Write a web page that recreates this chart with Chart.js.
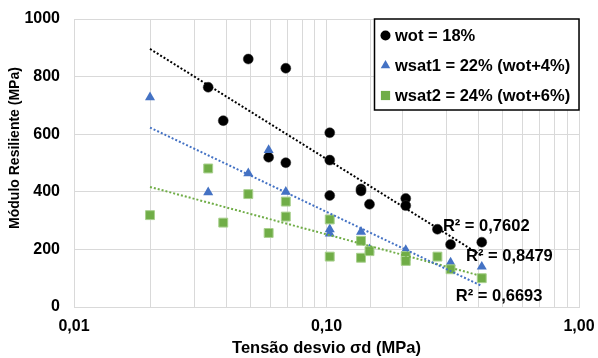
<!DOCTYPE html>
<html>
<head>
<meta charset="utf-8">
<script src="https://cdn.jsdelivr.net/npm/chart.js@4.4.1/dist/chart.umd.min.js"></script>
<style>
  body { margin: 0; background: #fff; }
</style>
</head>
<body>
<canvas id="grafico" width="598" height="358"></canvas>
<script>
// Módulo resiliente x tensão desvio, três umidades, com linhas de tendência logarítmicas

const wotSigma = [0.034, 0.039, 0.049, 0.059, 0.069, 0.069, 0.103, 0.103, 0.103, 0.137, 0.137, 0.148, 0.206, 0.206, 0.275, 0.31, 0.412];
const wotMr    = [763, 647, 861, 520, 829, 501, 605, 510, 387, 410, 403, 357, 377, 352, 270, 217, 225];

const wsat1Sigma = [0.02, 0.034, 0.049, 0.059, 0.069, 0.103, 0.103, 0.137, 0.148, 0.206, 0.31, 0.412];
const wsat1Mr    = [728, 398, 464, 545, 400, 270, 255, 261, 200, 198, 154, 140];

const wsat2Sigma = [0.02, 0.034, 0.039, 0.049, 0.059, 0.069, 0.069, 0.103, 0.103, 0.137, 0.137, 0.148, 0.206, 0.206, 0.275, 0.31, 0.412];
const wsat2Mr    = [319, 481, 293, 392, 257, 366, 314, 304, 175, 230, 171, 194, 177, 160, 175, 131, 100];

const nomes = ["wot = 18%", "wsat1 = 22% (wot+4%)", "wsat2 = 24% (wot+6%)"];
const r2Textos = ["R² = 0,7602", "R² = 0,8479", "R² = 0,6693"];

const xDecadas = [0.01, 0.1, 1];
const xDecadaLabels = ["0,01", "0,10", "1,00"];

const tituloY = "Módulo Resiliente (MPa)";
const tituloX = "Tensão desvio σd (MPa)";

const FONTE = 'Arial, "Liberation Sans", sans-serif';
const cores = ["#000000", "#4472C4", "#70AD47"];

function pontos(xs, ys) {
  return xs.map((x, i) => ({ x: x, y: ys[i] }));
}

// ajuste y = a ln(x) + b (mínimos quadrados)
function ajusteLog(xs, ys) {
  const lx = xs.map(Math.log);
  const n = lx.length;
  const mx = lx.reduce((s, v) => s + v, 0) / n;
  const my = ys.reduce((s, v) => s + v, 0) / n;
  let sxy = 0, sxx = 0;
  lx.forEach((v, i) => {
    sxy += (v - mx) * (ys[i] - my);
    sxx += (v - mx) * (v - mx);
  });
  const a = sxy / sxx;
  return { a: a, b: my - a * mx };
}

const todosX = wotSigma.concat(wsat1Sigma, wsat2Sigma);
const xIni = Math.min(...todosX);
const xFim = Math.max(...todosX);

function tendencia(xs, ys) {
  const f = ajusteLog(xs, ys);
  return [xIni, xFim].map(x => ({ x: x, y: f.a * Math.log(x) + f.b }));
}

const linhaTend = (dados, cor) => ({
  type: "line",
  data: dados,
  borderColor: cor,
  borderWidth: 2,
  borderDash: [2, 2],
  pointRadius: 0,
  fill: false,
  order: 0,
});

const extras = {
  id: "extras",
  afterDraw(chart, args, opts) {
    const { ctx, chartArea, scales } = chart;
    ctx.save();

    // título do eixo y (um pouco acima do centro, como no original)
    ctx.save();
    ctx.translate(15, 148);
    ctx.rotate(-Math.PI / 2);
    ctx.font = "bold 14px " + FONTE;
    ctx.fillStyle = "#000";
    ctx.textAlign = "center";
    ctx.textBaseline = "middle";
    ctx.fillText(tituloY, 0, 0);
    ctx.restore();

    // R²
    ctx.font = "bold 16.5px " + FONTE;
    ctx.fillStyle = "#000";
    ctx.textAlign = "left";
    ctx.textBaseline = "alphabetic";
    r2Textos.forEach((t, i) => {
      const p = opts.r2Pos[i];
      ctx.fillText(t, scales.x.getPixelForValue(p[0]), scales.y.getPixelForValue(p[1]));
    });

    // legenda
    const bx = 374.5, by = chartArea.top, bw = chartArea.right - bx, bh = 91;
    ctx.fillStyle = "#fff";
    ctx.fillRect(bx, by, bw, bh);
    ctx.strokeStyle = "#000";
    ctx.lineWidth = 1.5;
    ctx.strokeRect(bx, by, bw, bh);

    const estilos = ["circle", "triangle", "rect"];
    const raios = [5, 5.5, 6.5];
    ctx.textBaseline = "middle";
    nomes.forEach((nome, i) => {
      const y = by + 16.5 + i * 30;
      ctx.fillStyle = cores[i];
      ctx.strokeStyle = cores[i];
      Chart.helpers.drawPoint(ctx, { pointStyle: estilos[i], radius: raios[i], rotation: 0, borderWidth: 0 }, 385.5, y);
      ctx.fillStyle = "#000";
      ctx.font = "bold 16.5px " + FONTE;
      ctx.fillText(nome, 395, y + 1);
    });
    ctx.restore();
  },
};

new Chart(document.getElementById("grafico"), {
  type: "scatter",
  data: {
    datasets: [
      linhaTend(tendencia(wotSigma, wotMr), "#000000"),
      linhaTend(tendencia(wsat1Sigma, wsat1Mr), "#4472C4"),
      linhaTend(tendencia(wsat2Sigma, wsat2Mr), "#70AD47"),
      {
        label: nomes[2],
        data: pontos(wsat2Sigma, wsat2Mr),
        pointStyle: "rect",
        pointRadius: 6.3,
        backgroundColor: cores[2],
        borderColor: "#a9d08e",
        borderWidth: 1,
        order: 1,
      },
      {
        label: nomes[1],
        data: pontos(wsat1Sigma, wsat1Mr),
        pointStyle: "triangle",
        pointRadius: 5.8,
        backgroundColor: cores[1],
        borderColor: cores[1],
        borderWidth: 0,
        order: 2,
      },
      {
        label: nomes[0],
        data: pontos(wotSigma, wotMr),
        pointStyle: "circle",
        pointRadius: 5,
        backgroundColor: cores[0],
        borderColor: "#333",
        borderWidth: 0.5,
        order: 3,
      },
    ],
  },
  options: {
    responsive: false,
    animation: false,
    devicePixelRatio: 1,
    layout: { padding: 0 },
    plugins: {
      legend: { display: false },
      tooltip: { enabled: false },
      extras: { r2Pos: [[0.289, 264], [0.357, 161], [0.325, 21]] },
    },
    scales: {
      x: {
        type: "logarithmic",
        min: 0.01,
        max: 1,
        afterFit: (s) => { s.height = 51; s.paddingLeft = 0; s.paddingRight = 19; },
        grid: { color: "#d9d9d9", drawTicks: false },
        border: { color: "#d9d9d9" },
        ticks: {
          autoSkip: false,
          maxRotation: 0,
          padding: 10,
          color: "#000",
          font: { family: FONTE, size: 16, weight: "bold" },
          callback: (v) => {
            const i = xDecadas.findIndex(d => Math.abs(d - v) < 1e-9);
            return i >= 0 ? xDecadaLabels[i] : "";
          },
        },
        title: {
          display: true,
          text: tituloX,
          color: "#000",
          font: { family: FONTE, size: 16.5, weight: "bold" },
          padding: { top: 0, bottom: 0 },
        },
      },
      y: {
        min: 0,
        max: 1000,
        afterFit: (s) => { s.width = 74; s.paddingTop = 19; s.paddingBottom = 0; },
        grid: { color: "#d9d9d9", drawTicks: false },
        border: { color: "#d9d9d9" },
        ticks: {
          stepSize: 200,
          padding: 14,
          color: "#000",
          font: { family: FONTE, size: 16, weight: "bold" },
          callback: (v) => String(v),
        },
      },
    },
  },
  plugins: [extras],
});
</script>
</body>
</html>
